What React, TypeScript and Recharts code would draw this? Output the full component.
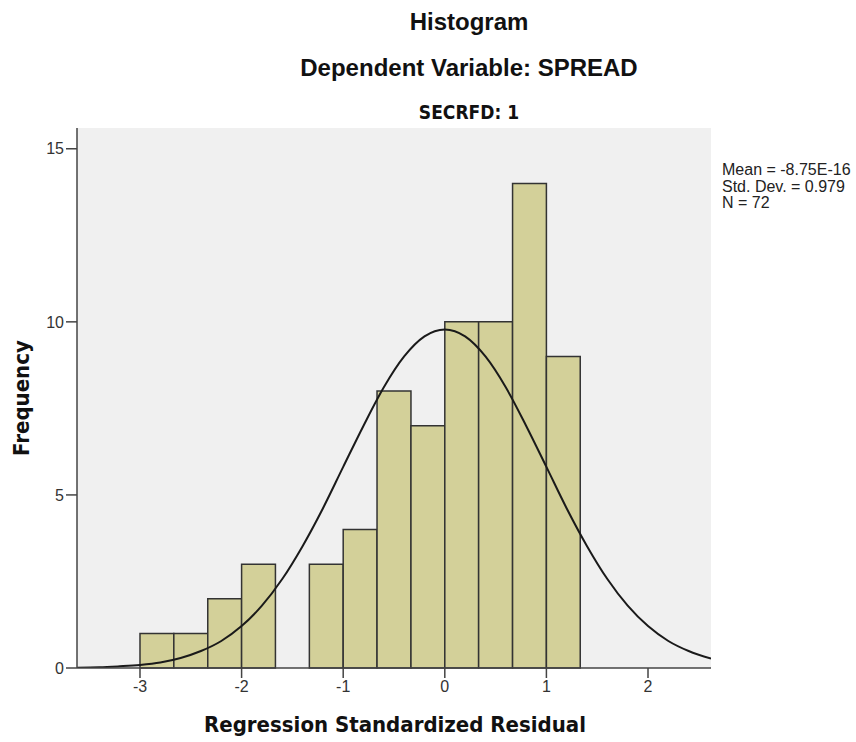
import React from 'react';
import {
  ComposedChart, Line, XAxis, YAxis, CartesianGrid, ReferenceArea,
} from 'recharts';

// Histogram bins (lower edge, upper edge, count)
const binStart = [-3, -2.667, -2.333, -2, -1.667, -1.333, -1, -0.667, -0.333, 0, 0.333, 0.667, 1];
const binEnd = [-2.667, -2.333, -2, -1.667, -1.333, -1, -0.667, -0.333, 0, 0.333, 0.667, 1, 1.333];
const binCount = [1, 1, 2, 3, 0, 3, 4, 8, 7, 10, 10, 14, 9];

// Normal curve
const curveX = [-3.62, -3.4, -3.2, -3.0, -2.8, -2.6, -2.4, -2.2, -2.0, -1.8, -1.6, -1.4, -1.2, -1.0, -0.8, -0.6, -0.4, -0.2, 0,
  0.2, 0.4, 0.6, 0.8, 1.0, 1.2, 1.4, 1.6, 1.8, 2.0, 2.2, 2.4, 2.62];
const curveY = [0.01, 0.02, 0.05, 0.09, 0.16, 0.29, 0.49, 0.78, 1.21, 1.8, 2.57, 3.52, 4.61, 5.81, 7.0, 8.11, 9.0, 9.58, 9.78,
  9.58, 9.0, 8.11, 7.0, 5.81, 4.61, 3.52, 2.57, 1.8, 1.21, 0.78, 0.49, 0.27];

const xTicks = [-3, -2, -1, 0, 1, 2];
const yTicks = [0, 5, 10, 15];
const xDomain = [-3.62, 2.62];
const yDomain = [0, 15.6];

const stats = ['Mean = -8.75E-16', 'Std. Dev. = 0.979', 'N = 72'];

const tickStyle = { fill: '#333', fontSize: 16, fontFamily: '"Liberation Sans", Arial, sans-serif' };
const boldCond = '"DejaVu Sans Condensed", "DejaVu Sans", sans-serif';

export default function App() {
  const curveData = curveX.map((x, i) => ({ x, y: curveY[i] }));

  return (
    <div style={{ position: 'absolute', left: 0, top: 0, width: 856, height: 742, background: '#fff' }}>
      <div style={{ position: 'absolute', left: 269, top: 10, width: 400, textAlign: 'center', fontFamily: '"Liberation Sans", Arial, sans-serif', fontWeight: 'bold', fontSize: 24, lineHeight: '24px', color: '#111' }}>
        Histogram
      </div>
      <div style={{ position: 'absolute', left: 219, top: 56, width: 500, textAlign: 'center', fontFamily: '"Liberation Sans", Arial, sans-serif', fontWeight: 'bold', fontSize: 24, lineHeight: '24px', color: '#111' }}>
        Dependent Variable: SPREAD
      </div>
      <div style={{ position: 'absolute', left: 369, top: 102, width: 200, textAlign: 'center', fontFamily: boldCond, fontWeight: 'bold', fontSize: 19, lineHeight: '20px', color: '#111' }}>
        SECRFD: 1
      </div>

      <ComposedChart
        width={856}
        height={742}
        data={curveData}
        margin={{ top: 128, right: 145, bottom: 34, left: 17 }}
      >
        <CartesianGrid fill="#f0f0f0" horizontal={false} vertical={false} />
        <XAxis
          dataKey="x"
          type="number"
          domain={xDomain}
          ticks={xTicks}
          allowDataOverflow
          height={40}
          tick={tickStyle}
          tickSize={10}
          tickMargin={3}
          stroke="#444"
          strokeWidth={1.5}
        />
        <XAxis
          xAxisId="top"
          orientation="top"
          type="number"
          domain={xDomain}
          height={0}
          tick={false}
          tickLine={false}
          stroke="#444"
          strokeWidth={1.5}
        />
        <YAxis
          type="number"
          domain={yDomain}
          ticks={yTicks}
          allowDataOverflow
          width={60}
          tick={tickStyle}
          tickSize={11}
          tickMargin={2}
          stroke="#444"
          strokeWidth={1.5}
        />
        <YAxis
          yAxisId="right"
          orientation="right"
          type="number"
          domain={yDomain}
          width={0}
          tick={false}
          tickLine={false}
          stroke="#444"
          strokeWidth={1.5}
        />
        {binCount.map((c, i) =>
          c > 0 ? (
            <ReferenceArea
              key={i}
              x1={binStart[i]}
              x2={binEnd[i]}
              y1={0}
              y2={c}
              fill="#d3d099"
              fillOpacity={1}
              stroke="#333"
              strokeWidth={1.5}
              ifOverflow="visible"
            />
          ) : null
        )}
        <Line
          dataKey="y"
          type="monotone"
          stroke="#1a1a1a"
          strokeWidth={2}
          dot={false}
          activeDot={false}
          isAnimationActive={false}
        />
      </ComposedChart>

      <div style={{ position: 'absolute', left: 722, top: 162, fontFamily: '"Liberation Sans", Arial, sans-serif', fontSize: 16, lineHeight: '16.5px', color: '#222' }}>
        {stats.map(s => <div key={s}>{s}</div>)}
      </div>

      <div style={{ position: 'absolute', left: 145, top: 714, width: 500, textAlign: 'center', fontFamily: boldCond, fontWeight: 'bold', fontSize: 22, lineHeight: '22px', color: '#111' }}>
        Regression Standardized Residual
      </div>
      <div style={{ position: 'absolute', left: -78, top: 387, width: 200, height: 22, textAlign: 'center', fontFamily: boldCond, fontWeight: 'bold', fontSize: 22, lineHeight: '22px', color: '#111', transform: 'rotate(-90deg)', transformOrigin: '100px 11px' }}>
        Frequency
      </div>
    </div>
  );
}
